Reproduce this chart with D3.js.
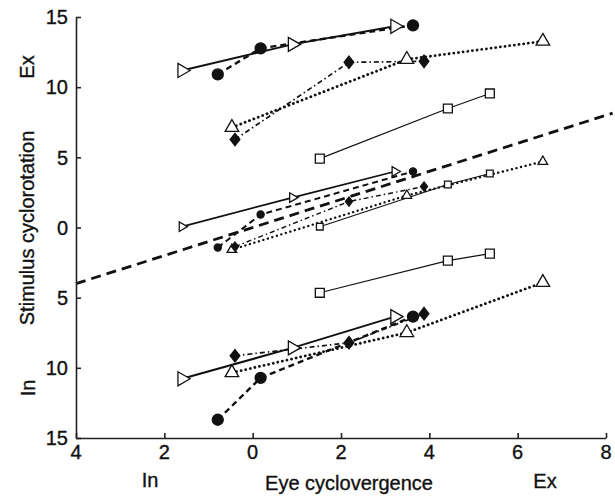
<!DOCTYPE html>
<html>
<head>
<meta charset="utf-8">
<script src="https://cdn.jsdelivr.net/npm/d3@7"></script>
<style>
  body { margin: 0; background: #fff; }
  text { font-family: "Liberation Sans", Arial, sans-serif; fill: #111; stroke: #111; stroke-width: 0.35px; }
</style>
</head>
<body>
<div id="chart"></div>
<script>
// x values (eye cyclovergence) for each subject, same in every stimulus group
var rightTriX = [-1.60, 0.90, 3.22];
var circleX   = [-0.79, 0.18, 3.63];
var diamondX  = [-0.40, 2.18, 3.88];
var upTriX    = [-0.47, 3.49, 6.57];
var squareX   = [1.52, 4.42, 5.37];

// y values (stimulus cyclorotation): [ex group, zero group, in group]
var rightTriY = [[11.19, 13.05, 14.34], [0.06, 2.13, 3.99], [-10.78, -8.58, -6.35]];
var circleY   = [[10.91, 12.77, 14.41], [-1.43, 0.92, 3.99], [-13.70, -10.71, -6.35]];
var diamondY  = [[6.27, 11.77, 11.84], [-1.36, 1.85, 2.92], [-9.14, -8.21, -6.14]];
var upTriY    = [[7.13, 11.98, 13.27], [-1.58, 2.28, 4.70], [-10.35, -7.49, -3.92]];
var squareY   = [[4.91, 8.48, 9.55], [0.06, 3.06, 3.85], [-4.65, -2.36, -1.86]];

var unityLine = [[-4, -4], [8.15, 8.15]];

var xTicks = [-4, -2, 0, 2, 4, 6, 8];
var yTicks = [-15, -10, -5, 0, 5, 10, 15];

var width = 615, height = 498;

var x = d3.scaleLinear().domain([-4, 8]).range([76, 606]);
var y = d3.scaleLinear().domain([-15, 15]).range([438, 17]);

var svg = d3.select("#chart").append("svg")
    .attr("width", width)
    .attr("height", height);

// custom diamond, a bit wider than d3.symbolDiamond
var wideDiamond = {
  draw: function(context, size) {
    var h = Math.sqrt(size) * 0.72, w = h * 0.78;
    context.moveTo(0, -h);
    context.lineTo(w, 0);
    context.lineTo(0, h);
    context.lineTo(-w, 0);
    context.closePath();
  }
};

var series = [
  { xs: squareX,   ys: squareY,   type: d3.symbolSquare,   rot: 0,  fill: "#fff", dash: null,         lw: 1.2, size: [80, 45] },
  { xs: upTriX,    ys: upTriY,    type: d3.symbolTriangle, rot: 0,  fill: "#fff", dash: "0.1 4.6",    lw: 2.8, size: [80, 40], cap: "round" },
  { xs: diamondX,  ys: diamondY,  type: wideDiamond,       rot: 0,  fill: "#111", dash: "5 3 1.5 3",  lw: 1.7, size: [75, 40] },
  { xs: circleX,   ys: circleY,   type: d3.symbolCircle,   rot: 0,  fill: "#111", dash: "6 4",        lw: 2.4, size: [95, 40] },
  { xs: rightTriX, ys: rightTriY, type: d3.symbolTriangle, rot: 90, fill: "#fff", dash: null,         lw: 2.0, size: [85, 40] }
];

var line = d3.line()
    .x(function(d) { return x(d[0]); })
    .y(function(d) { return y(d[1]); });

// unity line
svg.append("path")
    .attr("d", line(unityLine))
    .attr("fill", "none")
    .attr("stroke", "#111")
    .attr("stroke-width", 2.8)
    .attr("stroke-dasharray", "10 6");

// lines first
series.forEach(function(s) {
  s.ys.forEach(function(group, gi) {
    var pts = s.xs.map(function(v, i) { return [v, group[i]]; });
    svg.append("path")
        .attr("d", line(pts))
        .attr("fill", "none")
        .attr("stroke", "#111")
        .attr("stroke-width", gi == 1 ? s.lw * 0.85 : s.lw)
        .attr("stroke-linecap", s.cap || "butt")
        .attr("stroke-dasharray", s.dash);
  });
});

// then markers
series.forEach(function(s) {
  s.ys.forEach(function(group, gi) {
    var sym = d3.symbol().type(s.type).size(gi == 1 ? s.size[1] : s.size[0]);
    svg.selectAll(null)
        .data(s.xs.map(function(v, i) { return [v, group[i]]; }))
        .enter()
        .append("path")
        .attr("d", sym)
        .attr("transform", function(d) {
          return "translate(" + x(d[0]) + "," + y(d[1]) + ") rotate(" + s.rot + ")";
        })
        .attr("fill", s.fill)
        .attr("stroke", "#111")
        .attr("stroke-width", 1.3);
  });
});

// axes, ticks pointing inward, labels without sign
var xAxis = svg.append("g")
    .attr("transform", "translate(0,438)")
    .call(d3.axisTop(x).tickValues(xTicks).tickSize(5).tickSizeOuter(0)
      .tickFormat(function(d) { return Math.abs(d); }));
xAxis.selectAll("text").remove();
xAxis.selectAll("text.lbl")
    .data(xTicks).enter().append("text")
    .attr("x", function(d) { return x(d); })
    .attr("y", 21)
    .attr("text-anchor", "middle")
    .style("font-size", "20px")
    .text(function(d) { return Math.abs(d); });

var yAxis = svg.append("g")
    .attr("transform", "translate(76,0)")
    .call(d3.axisRight(y).tickValues(yTicks).tickSize(5).tickSizeOuter(0)
      .tickFormat(function(d) { return Math.abs(d); }));
yAxis.selectAll("text").remove();
yAxis.selectAll("text.lbl")
    .data(yTicks).enter().append("text")
    .attr("x", -8)
    .attr("y", function(d) { return y(d); })
    .attr("dy", "0.36em")
    .attr("text-anchor", "end")
    .style("font-size", "20px")
    .text(function(d) { return Math.abs(d); });

svg.selectAll(".domain, .tick line")
    .attr("stroke", "#222")
    .attr("stroke-width", 1.6);

// axis titles
svg.append("text")
    .attr("transform", "translate(34,228) rotate(-90)")
    .attr("text-anchor", "middle")
    .style("font-size", "20px")
    .text("Stimulus cyclorotation");
svg.append("text")
    .attr("transform", "translate(34,67) rotate(-90)")
    .attr("text-anchor", "middle")
    .style("font-size", "20px")
    .text("Ex");
svg.append("text")
    .attr("transform", "translate(35,388) rotate(-90)")
    .attr("text-anchor", "middle")
    .style("font-size", "20px")
    .text("In");

svg.append("text")
    .attr("x", 150).attr("y", 487)
    .attr("text-anchor", "middle")
    .style("font-size", "20px")
    .text("In");
svg.append("text")
    .attr("x", 349).attr("y", 490)
    .attr("text-anchor", "middle")
    .style("font-size", "20px")
    .text("Eye cyclovergence");
svg.append("text")
    .attr("x", 545).attr("y", 488)
    .attr("text-anchor", "middle")
    .style("font-size", "20px")
    .text("Ex");
</script>
</body>
</html>
